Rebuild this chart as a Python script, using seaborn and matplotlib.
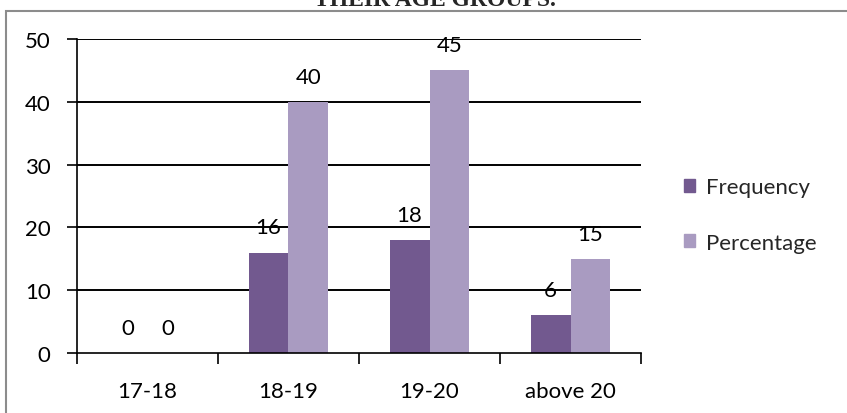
import matplotlib
matplotlib.use("Agg")
import matplotlib.pyplot as plt
import matplotlib.patches as mpatches
import pandas as pd
import seaborn as sns

# Respondents by age group
age_groups = ["17-18", "18-19", "19-20", "above 20"]
frequency = [0, 16, 18, 6]
percentage = [0, 40, 45, 15]
series_names = ["Frequency", "Percentage"]
y_ticks = [0, 10, 20, 30, 40, 50]

colors = ["#72598F", "#A99BC1"]

df = pd.DataFrame({
    "group": age_groups * 2,
    "series": [series_names[0]] * len(age_groups) + [series_names[1]] * len(age_groups),
    "value": frequency + percentage,
})

sns.set_theme(style="white")
plt.rcParams["font.family"] = ["Lato", "DejaVu Sans"]
FS = 16

fig = plt.figure(figsize=(8.47, 4.14), dpi=100)
ax = fig.add_axes([0.0909, 0.1449, 0.6659, 0.7585])

sns.barplot(data=df, x="group", y="value", hue="series", order=age_groups,
            hue_order=series_names, palette=colors, width=0.567,
            saturation=1, ax=ax, legend=True, edgecolor="none")

ax.set_ylim(0, 50)
ax.set_xlim(-0.5, len(age_groups) - 0.5)
ax.set_yticks(y_ticks)
ax.set_xlabel("")
ax.set_ylabel("")

# horizontal gridlines behind the bars
for t in y_ticks[1:]:
    ax.axhline(t, color="black", lw=1.4, zorder=0.5)

for side in ["top", "right"]:
    ax.spines[side].set_visible(False)
for side in ["left", "bottom"]:
    ax.spines[side].set_color("black")
    ax.spines[side].set_linewidth(1.2)

ax.set_xticks([i - 0.5 for i in range(len(age_groups) + 1)], minor=True)
ax.tick_params(axis="x", which="major", length=0, pad=20, labelsize=FS, colors="black")
ax.tick_params(axis="x", which="minor", length=8, width=1.2, color="black", direction="out", bottom=True)
ax.tick_params(axis="y", length=7, width=1.2, color="black", direction="out", left=True,
               pad=12, labelsize=FS, labelcolor="black")

# value labels above each bar
for container, vals in zip(ax.containers, [frequency, percentage]):
    for bar, v in zip(container, vals):
        ax.text(bar.get_x() + bar.get_width() / 2, v + 4, f"{v}",
                ha="center", va="center", fontsize=FS, color="black")

ax.legend(handles=[mpatches.Patch(color=c, label=n) for c, n in zip(colors, series_names)],
          loc="center left", bbox_to_anchor=(1.04, 0.44), frameon=False,
          fontsize=FS, handlelength=0.5, handleheight=0.5, handletextpad=0.5,
          labelspacing=1.6)

# chart area frame
fig.patches.append(mpatches.Rectangle((6 / 847, -0.1), 1.1, 1 - 12 / 414 + 0.1,
                                      transform=fig.transFigure, fill=False,
                                      edgecolor="#8C8C8C", lw=1.5))

fig.text(0.513, 1 - 6 / 414, "THEIR AGE GROUPS.", ha="center", va="baseline",
         fontsize=17, fontweight="bold", family=["Liberation Serif", "DejaVu Serif"])

fig.savefig("out.png", dpi=100)
